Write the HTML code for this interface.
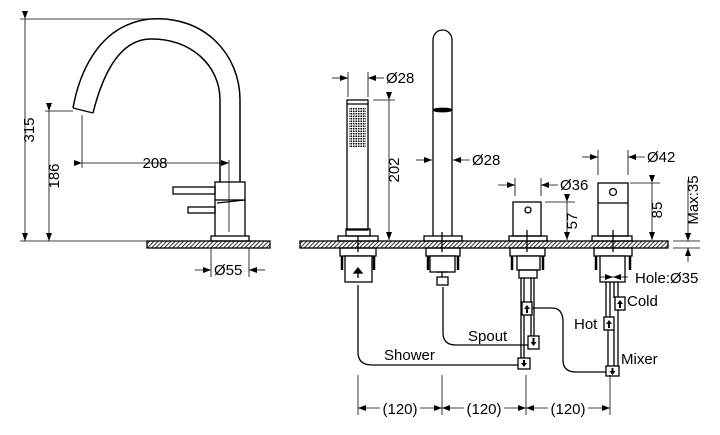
<!DOCTYPE html>
<html><head><meta charset="utf-8"><style>html,body{margin:0;padding:0;background:#fff}svg{display:block}text{font-family:"Liberation Sans",sans-serif;font-size:15px;fill:#000}</style></head><body>
<svg width="720" height="435" viewBox="0 0 720 435" xmlns="http://www.w3.org/2000/svg">
<defs>
<pattern id="h" width="3" height="3" patternUnits="userSpaceOnUse" patternTransform="rotate(45)"><rect width="3" height="3" fill="#fff"/><line x1="0" y1="0" x2="0" y2="3" stroke="#000" stroke-width="1.6"/></pattern>
<pattern id="g" width="2.5" height="2.5" patternUnits="userSpaceOnUse"><rect width="2.5" height="2.5" fill="#fff"/><circle cx="1.25" cy="1.25" r="0.9" fill="#000"/></pattern>
<marker id="a" markerWidth="8" markerHeight="6" refX="8" refY="3" orient="auto" markerUnits="userSpaceOnUse"><path d="M0,0 L8,3 L0,6z" fill="#000"/></marker>
</defs>
<g fill="none" stroke="#000" stroke-width="1.3">
<rect x="147" y="241" width="123" height="7" fill="url(#h)"/>
<rect x="300" y="241" width="368" height="7" fill="url(#h)"/>
<path d="M73,108 C78,80 95,25 150,19 C205,15 240,55 240,100 L240,182" stroke-width="1.5"/>
<path d="M93,113 C100,85 115,40 150,39 C190,38 220,65 220,100 L220,182" stroke-width="1.5"/>
<line x1="73" y1="108" x2="93" y2="113"/>
<rect x="215" y="182" width="30" height="18"/>
<path d="M215,200 L215,236 M245,200 L245,236 M217,203 L245,200"/>
<rect x="211" y="236" width="38" height="5"/>
<rect x="173" y="187" width="42" height="7"/>
<rect x="188" y="207" width="27" height="6"/>
<g stroke-width="0.8">
<line x1="20" y1="19" x2="155" y2="19"/><line x1="20" y1="241" x2="147" y2="241"/>
<line x1="25" y1="19" x2="25" y2="241" marker-start="url(#a)" marker-end="url(#a)"/>
<line x1="45" y1="111" x2="73" y2="111"/>
<line x1="49" y1="111" x2="49" y2="241" marker-start="url(#a)" marker-end="url(#a)"/>
<line x1="82" y1="115" x2="82" y2="168"/><line x1="229" y1="160" x2="229" y2="232"/>
<line x1="82" y1="163" x2="229" y2="163" marker-start="url(#a)" marker-end="url(#a)"/>
<line x1="211" y1="248" x2="211" y2="277"/><line x1="249" y1="248" x2="249" y2="277"/>
<line x1="195" y1="270" x2="211" y2="270" marker-end="url(#a)"/><line x1="265" y1="270" x2="249" y2="270" marker-end="url(#a)"/>
</g>
<!-- shower -->
<rect x="347" y="100" width="21" height="130"/>
<line x1="347" y1="104" x2="368" y2="104"/>
<rect x="349" y="107" width="17" height="41" fill="url(#g)" stroke="none"/>
<rect x="346" y="229" width="24" height="7"/>
<rect x="338" y="236" width="40" height="5"/>
<line x1="358" y1="236" x2="358" y2="252"/>
<rect x="340" y="248" width="36" height="8"/>
<path d="M342,256 v14 M374,256 v14" stroke-width="2.5"/>
<rect x="345" y="256" width="27" height="26" fill="#fff"/>
<path d="M358,278 v-7 M354,273 l4,-5 l4,5z" fill="#000"/>
<!-- spout -->
<path d="M433,236 L433,40 A9.5,10 0 0 1 452,40 L452,236"/>
<ellipse cx="442.5" cy="110" rx="9" ry="1.7" fill="#000"/>
<rect x="424" y="236" width="38" height="5"/>
<line x1="442" y1="232" x2="442" y2="252"/>
<rect x="426" y="248" width="34" height="8"/>
<path d="M428,256 v14 M458,256 v14" stroke-width="2.5"/>
<rect x="430" y="256" width="25" height="16" fill="#fff"/>
<rect x="437" y="277" width="11" height="8"/><line x1="437" y1="272" x2="448" y2="272"/><line x1="442" y1="272" x2="442" y2="277"/>
<!-- mixer unit -->
<rect x="513" y="202" width="28" height="34"/>
<circle cx="528" cy="210" r="3"/>
<rect x="509" y="236" width="38" height="5"/>
<line x1="527" y1="230" x2="527" y2="252"/>
<rect x="510" y="248" width="35" height="8"/>
<path d="M512,256 v14 M543,256 v14" stroke-width="2.5"/>
<rect x="517" y="256" width="23" height="14" fill="#fff"/>
<rect x="519" y="270" width="18" height="8"/>
<path d="M521,278 V362 M524,278 V360 M531,278 V340 M534,278 V338"/>
<rect x="522" y="302" width="10" height="13" fill="#fff"/>
<rect x="528" y="336" width="11" height="13" fill="#fff"/>
<rect x="518" y="358" width="12" height="11" fill="#fff"/>
<!-- right valve -->
<rect x="598" y="183" width="30" height="53"/>
<line x1="598" y1="203" x2="628" y2="203"/>
<circle cx="613" cy="192" r="3.5"/>
<rect x="592" y="236" width="40" height="5"/>
<line x1="613" y1="230" x2="613" y2="252"/>
<rect x="594" y="248" width="38" height="8"/>
<path d="M596,256 v14 M630,256 v14" stroke-width="2.5"/>
<rect x="600" y="256" width="25" height="26" fill="#fff"/>
<path d="M606,282 V318 M610,282 V318 M608,330 V367 M614,330 V367 M614,282 V298 M618,282 V298 M618,310 V367"/>
<rect x="615" y="297" width="10" height="13" fill="#fff"/>
<rect x="604" y="317" width="10" height="13" fill="#fff"/>
<rect x="606" y="366" width="13" height="10" fill="#fff"/>
<!-- connectors -->
<path d="M358,285 V352 Q358,365 372,365 H518"/>
<path d="M443,287 V333 Q443,345 456,345 H528"/>
<path d="M532,308 H552 Q563,308 563,322 V360 Q563,372 576,372 H606"/>
<g stroke-width="0.8">
<line x1="348" y1="72" x2="348" y2="97"/><line x1="368" y1="72" x2="368" y2="97"/>
<line x1="332" y1="78" x2="348" y2="78" marker-end="url(#a)"/><line x1="384" y1="78" x2="368" y2="78" marker-end="url(#a)"/>
<line x1="373" y1="100" x2="395" y2="100"/>
<line x1="389" y1="100" x2="389" y2="240" marker-start="url(#a)" marker-end="url(#a)"/>
<line x1="416" y1="160" x2="432" y2="160" marker-end="url(#a)"/><line x1="470" y1="160" x2="453" y2="160" marker-end="url(#a)"/>
<line x1="515" y1="178" x2="515" y2="196"/><line x1="541" y1="178" x2="541" y2="196"/>
<line x1="498" y1="185" x2="515" y2="185" marker-end="url(#a)"/><line x1="558" y1="185" x2="541" y2="185" marker-end="url(#a)"/>
<line x1="545" y1="202" x2="575" y2="202"/>
<line x1="567" y1="202" x2="567" y2="240" marker-start="url(#a)" marker-end="url(#a)"/>
<line x1="598" y1="150" x2="598" y2="175"/><line x1="628" y1="150" x2="628" y2="175"/>
<line x1="582" y1="157" x2="598" y2="157" marker-end="url(#a)"/><line x1="645" y1="157" x2="628" y2="157" marker-end="url(#a)"/>
<line x1="630" y1="183" x2="660" y2="183"/>
<line x1="652" y1="183" x2="652" y2="240" marker-start="url(#a)" marker-end="url(#a)"/>
<line x1="673" y1="241" x2="700" y2="241"/><line x1="673" y1="248" x2="700" y2="248"/>
<line x1="688" y1="180" x2="688" y2="241" marker-end="url(#a)"/>
<line x1="688" y1="262" x2="688" y2="248" marker-end="url(#a)"/>
<line x1="600" y1="277" x2="613" y2="277" marker-end="url(#a)"/><line x1="628" y1="277" x2="613" y2="277" marker-end="url(#a)"/>
<line x1="358" y1="375" x2="358" y2="415"/><line x1="442" y1="375" x2="442" y2="415"/><line x1="526" y1="375" x2="526" y2="415"/><line x1="610" y1="375" x2="610" y2="415"/>
<line x1="380" y1="408" x2="358" y2="408" marker-end="url(#a)"/><line x1="420" y1="408" x2="442" y2="408" marker-end="url(#a)"/>
<line x1="464" y1="408" x2="442" y2="408" marker-end="url(#a)"/><line x1="504" y1="408" x2="526" y2="408" marker-end="url(#a)"/>
<line x1="548" y1="408" x2="526" y2="408" marker-end="url(#a)"/><line x1="588" y1="408" x2="610" y2="408" marker-end="url(#a)"/>
</g>
</g>
<g fill="#000">
<path d="M527,305 l-3,4 h2 v4 h2 v-4 h2z"/><path d="M533.5,346 l-3,-4 h2 v-4 h2 v4 h2z"/><path d="M524,367 l-3,-4 h2 v-3 h2 v3 h2z"/>
<path d="M620,300 l-3,4 h2 v4 h2 v-4 h2z"/><path d="M609,320 l-3,4 h2 v4 h2 v-4 h2z"/><path d="M612.5,375 l-3,-4 h2 v-3 h2 v3 h2z"/>
</g>
<g>
<text transform="translate(34,130) rotate(-90)" text-anchor="middle">315</text>
<text transform="translate(59,176) rotate(-90)" text-anchor="middle">186</text>
<text x="155" y="168" text-anchor="middle">208</text>
<text x="214" y="275">Ø55</text>
<text x="386" y="83">Ø28</text>
<text transform="translate(399,170) rotate(-90)" text-anchor="middle">202</text>
<text x="472" y="165">Ø28</text>
<text x="560" y="190">Ø36</text>
<text transform="translate(577,221) rotate(-90)" text-anchor="middle">57</text>
<text x="647" y="162">Ø42</text>
<text transform="translate(662,210) rotate(-90)" text-anchor="middle">85</text>
<text transform="translate(698,200) rotate(-90)" text-anchor="middle">Max:35</text>
<text x="635" y="283">Hole:Ø35</text>
<text x="627" y="306">Cold</text>
<text x="574" y="329">Hot</text>
<text x="621" y="364">Mixer</text>
<text x="468" y="341">Spout</text>
<text x="384" y="360">Shower</text>
<text x="400" y="414" text-anchor="middle">(120)</text>
<text x="484" y="414" text-anchor="middle">(120)</text>
<text x="568" y="414" text-anchor="middle">(120)</text>
</g>
</svg>
</body></html>
